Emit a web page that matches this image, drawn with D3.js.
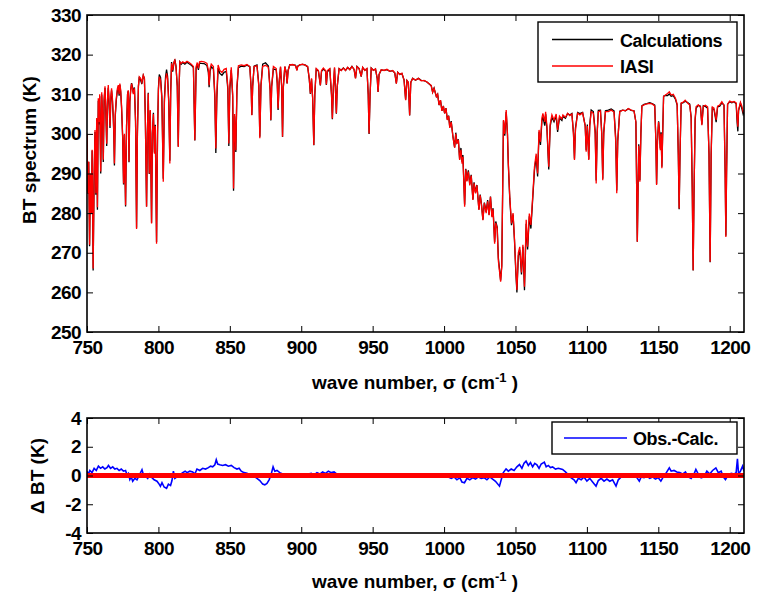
<!DOCTYPE html>
<html>
<head>
<meta charset="utf-8">
<script src="https://cdn.jsdelivr.net/npm/d3@7"></script>
<style>
  body { margin: 0; background: #fff; }
  svg { display: block; }
  text { font-family: "Liberation Sans", Arial, Helvetica, sans-serif; font-weight: bold; fill: #000; }
  .tick text { font-size: 19px; }
</style>
</head>
<body>
<svg width="763" height="595"></svg>
<script>

// tick labels
const waveTicks = [750, 800, 850, 900, 950, 1000, 1050, 1100, 1150, 1200]
const btTicks = [250, 260, 270, 280, 290, 300, 310, 320, 330]
const dbtTicks = [-4, -2, 0, 2, 4]
const seriesNames = ['Calculations', 'IASI']
const diffName = 'Obs.-Calc.'

// IASI brightness temperature [wave number cm-1, BT K]
const iasiSpectrum = [
  [750, 300], [750.6, 285], [751.2, 293], [751.8, 272], [752.4, 290], [753, 280], [753.6, 296], [754.3, 266],
  [755, 290], [755.6, 301], [756.2, 285], [756.8, 304], [757.3, 281.5], [757.9, 309], [758.4, 303], [758.9, 310],
  [759.6, 290.5], [760.3, 310.5], [760.9, 305], [761.4, 293.5], [762, 309], [762.6, 312], [763.2, 306], [763.8, 297.5],
  [764.4, 309], [764.9, 312.3], [765.5, 308], [766.1, 302], [766.7, 309.5], [767.2, 311.5], [767.8, 309], [768.4, 304.5],
  [768.8, 300], [769.2, 292.5], [769.8, 305], [770.5, 309], [771.3, 311.5], [771.9, 312.3], [772.5, 310], [773, 312.7],
  [773.6, 311], [774.2, 307], [775, 299], [775.6, 287.5], [776.2, 300], [777, 282], [777.7, 302], [778.4, 310],
  [778.9, 311], [779.4, 293], [780, 308], [780.6, 311], [781.2, 312.7], [781.8, 311.5], [782.4, 310], [783.2, 311.5],
  [784, 303], [784.7, 276], [785.3, 300], [786, 312], [786.6, 314.4], [787.5, 314], [788.4, 313], [789.4, 314.8],
  [790.2, 314], [790.8, 305], [791.7, 281.6], [792.3, 300], [792.9, 310.2], [793.6, 290], [794.3, 306], [795.2, 277.4],
  [795.8, 300], [796.5, 305], [797.2, 295], [797.8, 302], [798.7, 272.3], [799.4, 300], [800, 311], [800.6, 314.4],
  [801.5, 313.5], [802.4, 309], [803.4, 287.9], [804.2, 308], [805, 313.5], [805.7, 315.3], [806.4, 314], [807.2, 308],
  [808, 292.5], [808.6, 310], [809.2, 317.8], [810, 316], [810.8, 318], [811.5, 318.6], [812.3, 317], [813.2, 312],
  [813.9, 296.7], [814.5, 312], [815, 318.2], [816, 317.8], [817, 318.2], [818.5, 317.9], [820, 318.3], [821.5, 318],
  [823, 317.6], [824.5, 317], [825.5, 298.4], [826.4, 317], [827.2, 318], [828, 316.5], [828.8, 318.2], [830, 318.3],
  [832, 318.2], [834, 317.8], [835, 316], [835.5, 312.3], [836.2, 316.5], [837, 317.6], [838.5, 317], [839.5, 310],
  [840.2, 296.3], [840.9, 310], [841.8, 317.4], [843, 316], [844.5, 315.5], [846, 316.3], [847.5, 316.5], [848.6, 312],
  [849.3, 297.6], [850, 312], [851, 316.8], [852, 310], [852.6, 286.2], [853.3, 305], [854.2, 295.9], [855, 312],
  [856, 317.2], [858, 317.4], [860, 317.2], [862, 317.5], [864, 317], [865, 311], [865.4, 304.7], [866, 312],
  [867, 317], [869, 317.2], [870.3, 312], [871, 298.9], [871.8, 312], [873, 317], [875, 317.3], [877, 316.8],
  [878.2, 311], [878.7, 303.5], [879.3, 312], [880.5, 317], [882.5, 316.5], [883.2, 313], [883.8, 306.4], [884.5, 313],
  [885.5, 317], [886.3, 312], [886.9, 299.3], [887.5, 312], [888.5, 317], [889.5, 315.5], [890.1, 312.7], [890.8, 316],
  [892, 317.4], [894, 317.5], [896, 317.2], [897, 316], [897.5, 317], [899, 317.4], [901, 317.6], [903, 317.3],
  [904.5, 317], [905.6, 314], [906.4, 310.2], [907.2, 314], [908, 309], [908.8, 297.2], [909.5, 310], [910.5, 316.5],
  [912, 316], [913.4, 312.3], [914.2, 316], [915.5, 316.6], [917, 316], [917.6, 312.5], [918.3, 316], [920, 316.5],
  [921.2, 310], [921.8, 303.9], [922.5, 312], [923.3, 316.8], [924.1, 310], [924.6, 305.2], [925.2, 312], [926.5, 316.5],
  [928, 316], [929.5, 316.6], [931, 316], [932.5, 316.8], [934, 316.2], [935.5, 317], [937, 316.3], [938, 314],
  [939, 317], [940.5, 316.5], [942, 314.5], [943, 316.8], [944.5, 316], [946, 316.5], [946.9, 310], [947.5, 300.1],
  [948.2, 310], [949, 316.6], [950.5, 316], [952, 316.4], [953.2, 314], [953.8, 310.6], [954.5, 315], [956, 316.2],
  [958, 316], [960, 316.3], [962, 315.8], [964, 316], [965.5, 315.4], [966.6, 312.7], [967.5, 315.5], [969, 315],
  [970.5, 315.3], [972, 313.5], [973.1, 308.5], [974, 313.5], [975, 313], [975.9, 304.7], [976.7, 313], [978, 314],
  [980, 313.6], [982, 314], [984, 313.4], [986, 313.5], [988, 313.1], [990, 312.5], [991, 312.2], [992, 310.5],
  [993, 311.5], [994.6, 309.4], [995.5, 310], [996.5, 307.3], [997.5, 308.5], [998.5, 305.8], [999.5, 307], [1000.4, 305.2],
  [1001.3, 306.5], [1002.3, 303.5], [1003.2, 304.5], [1004, 301.5], [1005, 303], [1006.2, 299.3], [1007.4, 296.5], [1008.2, 300],
  [1009, 297.5], [1010, 298.5], [1010.9, 293.4], [1011.8, 296], [1012.6, 292.5], [1013.2, 294.2], [1014.4, 281.6], [1015.2, 291],
  [1016, 288], [1017, 290.5], [1018, 287], [1019, 289.5], [1020.2, 283.3], [1021, 287.5], [1022, 285], [1023, 287],
  [1024.4, 280.8], [1025.3, 284.5], [1026.2, 282], [1027.2, 278.2], [1028.2, 282.5], [1029.5, 280], [1030.5, 283], [1031.5, 279.5],
  [1032.5, 284.1], [1033.5, 279], [1034.3, 281], [1035.4, 272.3], [1036.2, 277.5], [1037.2, 276.1], [1038, 268], [1039.6, 262.7],
  [1040.4, 266.5], [1041, 285], [1041.6, 303.5], [1042.5, 300], [1043.5, 306], [1044.4, 300], [1045, 292.5], [1046, 284.1],
  [1047.2, 277.4], [1048.3, 280], [1049.3, 273.5], [1050.2, 266], [1051, 260.6], [1052, 270], [1053, 271.5], [1054.2, 265],
  [1055.2, 272], [1056.3, 261.4], [1057.5, 278.3], [1058.5, 271.5], [1059.7, 279.9], [1060.8, 277], [1062.2, 285], [1063.3, 291.7],
  [1064.5, 295], [1065.5, 290], [1066.5, 301], [1067.5, 298], [1068.5, 304], [1069.2, 305.2], [1070.5, 303], [1071.1, 305.6],
  [1072, 302], [1073.3, 291.7], [1074.3, 302.5], [1075.5, 304.8], [1077, 303.5], [1078.5, 305], [1079.5, 301], [1080.8, 304.5],
  [1082.5, 303.8], [1083.2, 304.8], [1085, 304.2], [1086.5, 305.2], [1088, 304.6], [1089.5, 305], [1090.6, 300], [1091.3, 293.4],
  [1092, 301], [1093.5, 305.2], [1095, 304.8], [1097, 305.3], [1098.8, 302], [1099.5, 295.5], [1100.3, 302], [1100.8, 298],
  [1101.3, 293.4], [1102, 302], [1103, 305.6], [1104.5, 305.2], [1105.8, 300], [1106.5, 287.5], [1107.2, 300], [1108, 305.6],
  [1109.5, 305.8], [1110.4, 300], [1111.1, 288.3], [1111.8, 300], [1113, 305.6], [1115, 305.6], [1117, 306], [1119, 305.5],
  [1120.2, 298], [1120.9, 285], [1121.6, 298], [1123, 305.6], [1125, 306], [1127, 305.8], [1129, 306.4], [1131, 306],
  [1133, 305.8], [1134.3, 303], [1134.9, 285], [1135.3, 272.8], [1135.8, 285], [1136.3, 297], [1137.1, 287.9], [1137.8, 300],
  [1138.5, 307], [1140, 307.3], [1142, 307.6], [1144, 307.7], [1146, 307.5], [1147.5, 307], [1148.3, 298], [1148.8, 287.1],
  [1149.4, 298], [1150.2, 303], [1150.9, 300], [1151.4, 295.9], [1152, 300], [1152.5, 291.3], [1153.2, 302], [1153.7, 309.4],
  [1155, 309.8], [1156.5, 310.2], [1157.7, 310.6], [1159, 309.8], [1160.5, 310], [1162, 309], [1163.2, 307.5], [1164, 295],
  [1164.6, 281.2], [1165.2, 295], [1166, 307.8], [1167.5, 308], [1168.8, 308.5], [1170.5, 307.8], [1172, 307.3], [1173, 304],
  [1173.8, 285], [1174.4, 265.6], [1175, 285], [1175.8, 304], [1176.5, 306.9], [1178, 307.3], [1179.5, 306.8], [1180.5, 302.2],
  [1181.5, 307], [1183, 307.2], [1184.5, 306.8], [1185.5, 295], [1186.3, 267.7], [1187, 295], [1187.8, 306.8], [1189, 306.5],
  [1190.5, 303.5], [1191.5, 307], [1193, 307.3], [1194.5, 308.1], [1196, 307.2], [1196.8, 290], [1197.3, 274], [1197.8, 290],
  [1198.5, 307.5], [1200, 308.3], [1201.5, 308], [1203, 308.2], [1204.5, 307.8], [1205.2, 304], [1205.7, 301.8], [1206.2, 306],
  [1207.5, 308], [1208.5, 307], [1209.4, 305.6], [1210, 306]
]

// Obs. - Calc. difference [wave number, dBT K]
const obsMinusCalc = [
  [750, 0.3], [751, 0.1], [752, 0.35], [753.5, 0.2], [755, 0.5], [756.5, 0.35], [758, 0.65], [759.5, 0.5],
  [761, 0.6], [762.5, 0.45], [764, 0.55], [765, 0.7], [766.5, 0.5], [768, 0.6], [769.5, 0.45], [771, 0.5],
  [772.5, 0.35], [774, 0.45], [775.5, 0.3], [777, 0.35], [778, 0.05], [779, 0.15], [780, -0.28], [781, -0.1],
  [782, -0.4], [783.5, -0.2], [785, -0.3], [786.5, 0], [788.5, 0.4], [789.5, 0.05], [791, -0.05], [792.5, -0.2],
  [794, 0.1], [795.5, -0.15], [797, -0.3], [799, -0.4], [800.5, -0.6], [801.4, -0.75], [802.5, -0.5], [804, -0.8],
  [805.7, -0.9], [807, -0.6], [808.5, -0.7], [809.5, -0.35], [810.5, 0.3], [811.5, -0.2], [813, -0.1], [815, 0.05],
  [817, 0.2], [818.7, 0.3], [820, 0.2], [822, 0.3], [824, 0.25], [825.5, 0.1], [827, 0.45], [829, 0.35],
  [831, 0.5], [833, 0.45], [835, 0.55], [836.5, 0.65], [838, 0.6], [839.5, 0.75], [840.5, 1.1], [841.5, 0.8],
  [843, 0.75], [845, 0.7], [847, 0.75], [849, 0.65], [851, 0.7], [853, 0.55], [855, 0.45], [856.5, 0.5],
  [858, 0.3], [860, 0.2], [862, 0.15], [864, 0.05], [866, -0.05], [867.5, -0.1], [869, -0.2], [871, -0.35],
  [873, -0.6], [874.5, -0.65], [876, -0.55], [877.5, -0.3], [879, 0.1], [880.3, 0.6], [881.5, 0.3], [883, 0.35],
  [885, 0.2], [887, 0.1], [889, 0.05], [891, 0], [893, -0.05], [895, 0.05], [897, -0.1], [899, 0],
  [901, 0.05], [903, -0.05], [905, 0.1], [907, 0.15], [909, 0.05], [911, 0.2], [913, 0.1], [915, 0.25],
  [917, 0.15], [919, 0.3], [921, 0.2], [923, 0.25], [925, 0.1], [927, 0.05], [929, -0.05], [931, 0],
  [933, 0.05], [935, -0.05], [937, 0.05], [939, -0.05], [941, 0], [943, 0.05], [945, -0.1], [947, 0.1],
  [949, 0], [951, -0.05], [953, 0.05], [955, 0], [957, 0.05], [959, -0.05], [961, 0.1], [963, 0],
  [965, 0.05], [967, -0.05], [969, 0], [971, 0.1], [973, -0.1], [975, 0.05], [977, 0], [979, -0.05],
  [981, 0.05], [983, 0], [985, -0.1], [987, 0.05], [989, 0], [991, 0.05], [993, -0.05], [995, 0],
  [997, 0.05], [999, -0.05], [1001, 0], [1003, -0.1], [1005, -0.2], [1007, -0.1], [1009, -0.3], [1011, -0.15],
  [1012.5, -0.45], [1014.3, -0.5], [1016, -0.2], [1018, -0.3], [1020, -0.15], [1022, -0.25], [1024, -0.1], [1026, -0.2],
  [1028, -0.15], [1030, -0.3], [1032, -0.1], [1034, -0.25], [1036, -0.4], [1038.8, -0.74], [1040, -0.3], [1041.5, 0.2],
  [1043.4, 0.46], [1045, 0.3], [1047, 0.45], [1049, 0.35], [1051, 0.6], [1052.8, 0.76], [1054.5, 0.5], [1056, 0.85],
  [1057.4, 1.0], [1059, 0.7], [1060.5, 0.9], [1062, 0.6], [1063.5, 0.85], [1065, 0.75], [1066.5, 0.5], [1068, 0.8],
  [1070.2, 0.93], [1071.5, 0.6], [1073, 0.7], [1074.5, 0.55], [1076, 0.6], [1078, 0.45], [1080, 0.5], [1083, 0.42],
  [1085, 0.25], [1087, 0.05], [1089, -0.16], [1091, -0.3], [1092.4, -0.5], [1094, -0.2], [1096, -0.3], [1098, -0.1],
  [1100, -0.39], [1102, -0.2], [1104, -0.45], [1106.4, -0.74], [1108, -0.35], [1110, -0.2], [1112, -0.39], [1114, -0.25],
  [1116, -0.4], [1118, -0.3], [1120.4, -0.74], [1122, -0.3], [1124, -0.1], [1126, 0], [1128, -0.05], [1130, 0.05],
  [1132, 0.1], [1134, 0], [1136.7, -0.39], [1138, -0.1], [1140, -0.15], [1142, -0.05], [1144, -0.2], [1146, -0.1],
  [1148, -0.25], [1150, -0.15], [1151.8, -0.39], [1153.5, -0.1], [1155, 0.1], [1157.7, 0.53], [1159, 0.3], [1161, 0.35],
  [1163, 0.25], [1165, 0.2], [1167, 0.1], [1169, 0.25], [1171, -0.1], [1173, -0.2], [1175, 0.1], [1176.3, 0.42],
  [1178, 0.1], [1180, -0.16], [1182, -0.1], [1184, 0.3], [1186, 0.1], [1188, 0.35], [1190.3, 0.53], [1192, 0.2],
  [1194, 0.3], [1195.5, -0.1], [1197, -0.28], [1199, 0.05], [1201, 0.15], [1203, 0.1], [1204.5, 0.2], [1205.4, 1.16],
  [1206.2, 0.1], [1207.5, 0.3], [1209, 0.65], [1210, 0.3]
]

// calculations = observation - (obs - calc), taking the nearest difference sample
let bisect = d3.bisector(d => d[0]).center
let calcSpectrum = iasiSpectrum.map(d => [d[0], d[1] - obsMinusCalc[bisect(obsMinusCalc, d[0])][1]])

let svg = d3.select('svg')

let left = 87, right = 744
let x = d3.scaleLinear().domain([750, 1210]).range([left, right])
let yTop = d3.scaleLinear().domain([250, 330]).range([332, 15])
let yBot = d3.scaleLinear().domain([-4, 4]).range([533, 418])

// plain hyphen for negatives, like the original
let fmt = d => String(d)

function drawFrame(y, ticks, top, bottom) {
  let g = svg.append('g')

  g.append('g')
    .attr('transform', `translate(0,${bottom})`)
    .call(d3.axisBottom(x).tickValues(waveTicks).tickSizeInner(-6).tickSizeOuter(0).tickPadding(9).tickFormat(fmt))
  g.append('g')
    .attr('transform', `translate(0,${top})`)
    .call(d3.axisTop(x).tickValues(waveTicks).tickSizeInner(-6).tickSizeOuter(0).tickFormat(''))
  g.append('g')
    .attr('transform', `translate(${left},0)`)
    .call(d3.axisLeft(y).tickValues(ticks).tickSizeInner(-6).tickSizeOuter(0).tickPadding(6).tickFormat(fmt))
  g.append('g')
    .attr('transform', `translate(${right},0)`)
    .call(d3.axisRight(y).tickValues(ticks).tickSizeInner(-6).tickSizeOuter(0).tickFormat(''))

  g.selectAll('.domain').remove()
  g.selectAll('.tick line').attr('stroke', '#000').attr('stroke-width', 1)
  g.selectAll('.tick text').attr('fill', '#000').style('font-size', '19px').style('letter-spacing', '-0.6px')

  g.append('rect')
    .attr('x', left).attr('y', top)
    .attr('width', right - left).attr('height', bottom - top)
    .attr('fill', 'none').attr('stroke', '#000').attr('stroke-width', 1.6)
  return g
}

// ---- top panel
svg.append('clipPath').attr('id', 'clipTop').append('rect')
  .attr('x', left).attr('y', 15).attr('width', right - left).attr('height', 317)

let lineTop = d3.line().x(d => x(d[0])).y(d => yTop(d[1]))

let plotTop = svg.append('g').attr('clip-path', 'url(#clipTop)')
plotTop.append('path')
  .datum(calcSpectrum)
  .attr('d', lineTop)
  .attr('fill', 'none').attr('stroke', '#000').attr('stroke-width', 1.3)
plotTop.append('path')
  .datum(iasiSpectrum)
  .attr('d', lineTop)
  .attr('fill', 'none').attr('stroke', '#ff0000').attr('stroke-width', 1.3)

drawFrame(yTop, btTicks, 15, 332)

// legend top
let legTop = svg.append('g')
legTop.append('rect')
  .attr('x', 538).attr('y', 22).attr('width', 199).attr('height', 60)
  .attr('fill', '#fff').attr('stroke', '#000').attr('stroke-width', 1.4)
let legColors = ['#000', '#ff0000']
seriesNames.forEach((name, i) => {
  let yy = 39.5 + i * 26.5
  legTop.append('line')
    .attr('x1', 552).attr('x2', 613).attr('y1', yy).attr('y2', yy)
    .attr('stroke', legColors[i]).attr('stroke-width', 1.4)
  legTop.append('text')
    .attr('x', 620).attr('y', yy + 7)
    .style('font-size', '18px').style('letter-spacing', '-0.4px')
    .text(name)
})

svg.append('text')
  .attr('transform', 'translate(36,150) rotate(-90)')
  .attr('text-anchor', 'middle')
  .style('font-size', '19px')
  .text('BT spectrum (K)')

function waveLabel(yy) {
  let t = svg.append('text')
    .attr('x', 415).attr('y', yy)
    .attr('text-anchor', 'middle')
    .style('font-size', '19px')
  t.append('tspan').text('wave number, σ (cm')
  t.append('tspan').attr('dy', -7).style('font-size', '13px').text('-1')
  t.append('tspan').attr('dy', 7).text(' )')
}
waveLabel(389)

// ---- bottom panel
svg.append('clipPath').attr('id', 'clipBot').append('rect')
  .attr('x', left).attr('y', 418).attr('width', right - left).attr('height', 115)

let lineBot = d3.line().x(d => x(d[0])).y(d => yBot(d[1]))
let plotBot = svg.append('g').attr('clip-path', 'url(#clipBot)')
plotBot.append('path')
  .datum(obsMinusCalc)
  .attr('d', lineBot)
  .attr('fill', 'none').attr('stroke', '#0000ff').attr('stroke-width', 1.6)
plotBot.append('line')
  .attr('x1', x(750)).attr('x2', x(1210))
  .attr('y1', yBot(0)).attr('y2', yBot(0))
  .attr('stroke', '#ff0000').attr('stroke-width', 5)

drawFrame(yBot, dbtTicks, 418, 533)

let legBot = svg.append('g')
legBot.append('rect')
  .attr('x', 552).attr('y', 422).attr('width', 185).attr('height', 32)
  .attr('fill', '#fff').attr('stroke', '#000').attr('stroke-width', 1.4)
legBot.append('line')
  .attr('x1', 564).attr('x2', 627).attr('y1', 438).attr('y2', 438)
  .attr('stroke', '#0000ff').attr('stroke-width', 1.6)
legBot.append('text')
  .attr('x', 633).attr('y', 445)
  .style('font-size', '18px').style('letter-spacing', '-0.4px')
  .text(diffName)

svg.append('text')
  .attr('transform', 'translate(44,476) rotate(-90)')
  .attr('text-anchor', 'middle')
  .style('font-size', '19px')
  .text('Δ BT (K)')

waveLabel(588)

</script>
</body>
</html>
